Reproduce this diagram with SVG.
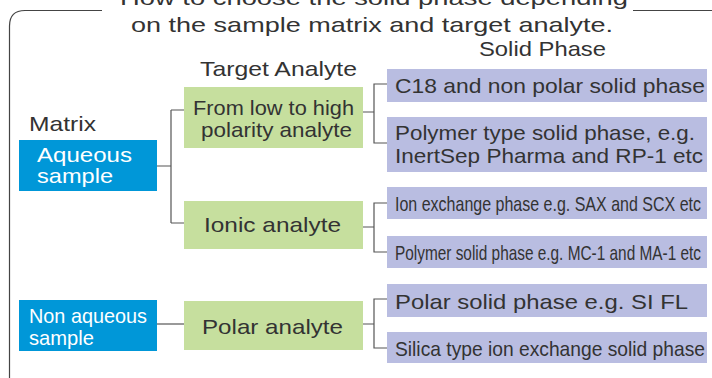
<svg xmlns="http://www.w3.org/2000/svg" width="712" height="378" viewBox="0 0 712 378">
<style>
text{font-family:"Liberation Sans","DejaVu Sans",sans-serif;fill:#333;font-size:21px}
.w{fill:#fff}
.m{fill:#0097d8}
.g{fill:#c6df9e}
.p{fill:#b9bde1}
.ln{fill:none;stroke:#555;stroke-width:1.2}
.fr{fill:none;stroke:#444;stroke-width:1.2}
</style>
<rect width="712" height="378" fill="#fff"/>
<g id="frame">
<path class="fr" d="M9.5 378 V26 Q9.5 10.5 25 10.5 H102 M633 10.5 H712"/>
</g>
<g id="title">
<text x="120" y="5" textLength="508" lengthAdjust="spacingAndGlyphs" font-size="22">How to choose the solid phase depending</text>
<text x="131" y="32" textLength="482" lengthAdjust="spacingAndGlyphs" font-size="22">on the sample matrix and target analyte.</text>
</g>
<g id="headers">
<text x="479" y="56" textLength="127" lengthAdjust="spacingAndGlyphs">Solid Phase</text>
<text x="200" y="76" textLength="157" lengthAdjust="spacingAndGlyphs">Target Analyte</text>
<text x="29" y="131" textLength="67" lengthAdjust="spacingAndGlyphs">Matrix</text>
</g>
<g id="connectors">
<path class="ln" d="M157 166 H171 M171 110 V223 M171 110 H184 M171 223 H184"/>
<path class="ln" d="M157 324 H184"/>
<path class="ln" d="M363 112 H374 M387 84 H374 V143 H387"/>
<path class="ln" d="M363 227 H374 M387 203 H374 V252 H387"/>
<path class="ln" d="M363 324 H374 M387 299 H374 V348 H387"/>
</g>
<g id="aqueous">
<rect class="m" x="19" y="140" width="138" height="51"/>
<text class="w" x="37" y="162" textLength="95" lengthAdjust="spacingAndGlyphs">Aqueous</text>
<text class="w" x="37" y="183" textLength="76" lengthAdjust="spacingAndGlyphs">sample</text>
</g>
<g id="nonaqueous">
<rect class="m" x="19" y="300" width="138" height="51"/>
<text class="w" x="29" y="323" textLength="118" lengthAdjust="spacingAndGlyphs" font-size="20">Non aqueous</text>
<text class="w" x="29" y="345" textLength="65" lengthAdjust="spacingAndGlyphs" font-size="20">sample</text>
</g>
<g id="lowhigh">
<rect class="g" x="184" y="87" width="179" height="61"/>
<text x="193" y="115" textLength="161" lengthAdjust="spacingAndGlyphs">From low to high</text>
<text x="201" y="137" textLength="151" lengthAdjust="spacingAndGlyphs">polarity analyte</text>
</g>
<g id="ionic">
<rect class="g" x="184" y="201" width="179" height="48"/>
<text x="204" y="232" textLength="137" lengthAdjust="spacingAndGlyphs">Ionic analyte</text>
</g>
<g id="polar">
<rect class="g" x="184" y="301" width="179" height="49"/>
<text x="202" y="334" textLength="141" lengthAdjust="spacingAndGlyphs">Polar analyte</text>
</g>
<g id="c18">
<rect class="p" x="387" y="69" width="320" height="33"/>
<text x="395" y="93" textLength="310" lengthAdjust="spacingAndGlyphs">C18 and non polar solid phase</text>
</g>
<g id="polymertype">
<rect class="p" x="387" y="117" width="320" height="55"/>
<text x="395" y="140" textLength="300" lengthAdjust="spacingAndGlyphs">Polymer type solid phase, e.g.</text>
<text x="395" y="163" textLength="308" lengthAdjust="spacingAndGlyphs">InertSep Pharma and RP-1 etc</text>
</g>
<g id="ionexchange">
<rect class="p" x="387" y="187" width="320" height="32"/>
<text x="395" y="211" textLength="306" lengthAdjust="spacingAndGlyphs" font-size="18">Ion exchange phase e.g. SAX and SCX etc</text>
</g>
<g id="polymersolid">
<rect class="p" x="387" y="236" width="320" height="32"/>
<text x="395" y="260" textLength="306" lengthAdjust="spacingAndGlyphs" font-size="17">Polymer solid phase e.g. MC-1 and MA-1 etc</text>
</g>
<g id="polarsolid">
<rect class="p" x="387" y="284" width="320" height="33"/>
<text x="395" y="309" textLength="293" lengthAdjust="spacingAndGlyphs">Polar solid phase e.g. SI FL</text>
</g>
<g id="silica">
<rect class="p" x="387" y="332" width="320" height="31"/>
<text x="395" y="356" textLength="310" lengthAdjust="spacingAndGlyphs">Silica type ion exchange solid phase</text>
</g>
</svg>
